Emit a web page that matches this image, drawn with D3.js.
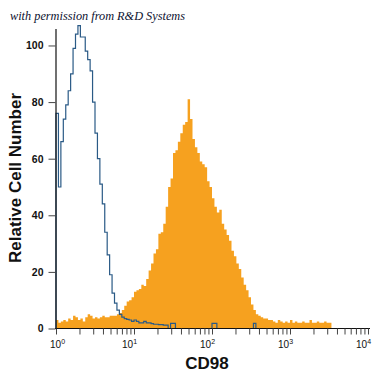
<!DOCTYPE html>
<html>
<head>
<meta charset="utf-8">
<script src="https://cdn.jsdelivr.net/npm/d3@7"></script>
<style>
  html, body { margin: 0; padding: 0; background: #fff; }
  svg { display: block; }
</style>
</head>
<body>
<svg id="chart" width="375" height="375"></svg>
<script>
// ---- data ----
const binWidthDecades = 1 / 32;           // histogram channel width in log10 units
const xTickExponents = [0, 1, 2, 3, 4];
const yTicks = [0, 20, 40, 60, 80, 100];
const xTitle = "CD98";
const yTitle = "Relative Cell Number";
const credit = "with permission from R&D Systems";

// isotype control (blue outline)
const controlCounts = [
  76,50,66,74,79,84,90,99,104,107,
  103,103,98,95,91,80,69,60,51,44,
  34,26,19,12.5,9,6.5,5,4,3.5,3.2,
  3,2.5,3,2.5,2,2,2.5,2,2,1.7,
  1.5,1.5,1.4,1.4,1.2,1.2,0,1.8,1.8,0,
  0,0,0,0,0,0,0,0,0,0,
  0,0,0,0,1.8,1.8,0,0,0,0,
  0,0,0,0,0,0,0,0,0,0,
  0,1.8,0
];
// CD98 stained (orange filled)
const stainedCounts = [
  3,2,2.5,3,2.5,3.5,3,4.5,4,3,
  3.5,2.5,4,5,4.5,3.5,4,3.5,4,4.5,
  4,4,4.5,4.5,4.5,5,5.5,6.5,8,9.5,
  10,11,13,13.5,14,15.5,15,17.5,20.5,23,
  26.5,28,33.5,34,37,43,50,53,62,63,
  66,69,72,73,81,74,67,64,62,59,
  58,57,52,50,46,43,41,42,37,35,
  33,31,27.5,25.5,23,21,18,15.5,13.5,11,
  8.5,6.5,5,4.5,4,3.5,3.5,3,3,2.5,
  2,3,2.5,2,2.5,2,3,2,2.5,2,
  2,2.5,2,2,3,2,2,2.5,2,2,
  2.5,2,2
];

// ---- drawing ----
const svg = d3.select("#chart");
svg.append("rect").attr("width", 375).attr("height", 375).attr("fill", "#fff");

const x = d3.scaleLog().domain([1, 1e4]).range([56, 368]);
const y = d3.scaleLinear().domain([0, 106]).range([328.5, 28.5]);

function toPoints(counts) {
  const pts = counts.map((v, i) => [Math.pow(10, i * binWidthDecades), v]);
  pts.push([Math.pow(10, counts.length * binWidthDecades), counts[counts.length - 1]]);
  return pts;
}

// orange filled histogram
const area = d3.area()
  .x(d => x(d[0]))
  .y0(y(0))
  .y1(d => y(d[1]))
  .curve(d3.curveStepAfter);
svg.append("path")
  .datum(toPoints(stainedCounts))
  .attr("d", area)
  .attr("fill", "#f6a11f")
  .attr("stroke", "none");

// blue outline histogram
const ctrlPts = [[1, 0]].concat(toPoints(controlCounts));
ctrlPts.push([ctrlPts[ctrlPts.length - 1][0], 0]);
const line = d3.line()
  .x(d => x(d[0]))
  .y(d => y(d[1]))
  .curve(d3.curveStepAfter);
svg.append("path")
  .datum(ctrlPts)
  .attr("d", line)
  .attr("fill", "none")
  .attr("stroke", "#2a5a86")
  .attr("stroke-width", 1.2);

// x axis with minor log ticks
const minorTicks = [];
for (let e = 0; e < 4; e++) for (let m = 1; m < 10; m++) minorTicks.push(m * Math.pow(10, e));
minorTicks.push(1e4);
const xAxis = svg.append("g")
  .attr("transform", "translate(0,328.5)")
  .call(d3.axisBottom(x).tickValues(minorTicks).tickSize(6).tickSizeOuter(0).tickFormat(""));
xAxis.select(".domain").attr("stroke", "#111").attr("stroke-width", 1.2).attr("d", "M55,0H370");
xAxis.selectAll(".tick line").attr("stroke", "#444");

// x tick labels 10^k
const xl = svg.append("g")
  .attr("font-family", "'Liberation Sans', Arial, sans-serif")
  .attr("fill", "#111");
xl.selectAll("text").data(xTickExponents).enter().append("text")
  .attr("x", d => x(Math.pow(10, d)) - (d === 0 ? 6 : 12))
  .attr("y", 348)
  .attr("font-size", 10)
  .each(function(d) {
    const t = d3.select(this);
    t.append("tspan").text("10");
    t.append("tspan").attr("dy", -4).attr("font-size", 7).text(d);
  });

// y axis
const yAxis = svg.append("g")
  .attr("transform", "translate(55.5,0)")
  .call(d3.axisLeft(y).tickValues(yTicks).tickSize(7).tickPadding(5).tickSizeOuter(0));
yAxis.select(".domain").attr("stroke", "#111").attr("stroke-width", 1.2);
yAxis.selectAll(".tick line").attr("stroke", "#444");
yAxis.selectAll(".tick text")
  .attr("font-family", "'Liberation Sans', Arial, sans-serif")
  .attr("font-size", 10.5)
  .attr("font-weight", "bold")
  .attr("fill", "#111");

// titles
svg.append("text")
  .attr("x", 207).attr("y", 369)
  .attr("text-anchor", "middle")
  .attr("font-family", "'Liberation Sans', Arial, sans-serif")
  .attr("font-size", 17).attr("font-weight", "bold")
  .attr("fill", "#111")
  .text(xTitle);

svg.append("text")
  .attr("transform", "translate(21,178) rotate(-90)")
  .attr("text-anchor", "middle")
  .attr("font-family", "'Liberation Sans', Arial, sans-serif")
  .attr("font-size", 17).attr("font-weight", "bold")
  .attr("fill", "#111")
  .text(yTitle);

svg.append("text")
  .attr("x", 10).attr("y", 20)
  .attr("font-family", "'Liberation Serif', 'DejaVu Serif', serif")
  .attr("font-style", "italic")
  .attr("font-size", 12.5)
  .attr("textLength", 175)
  .attr("lengthAdjust", "spacingAndGlyphs")
  .attr("fill", "#0d1230")
  .text(credit);
</script>
</body>
</html>
